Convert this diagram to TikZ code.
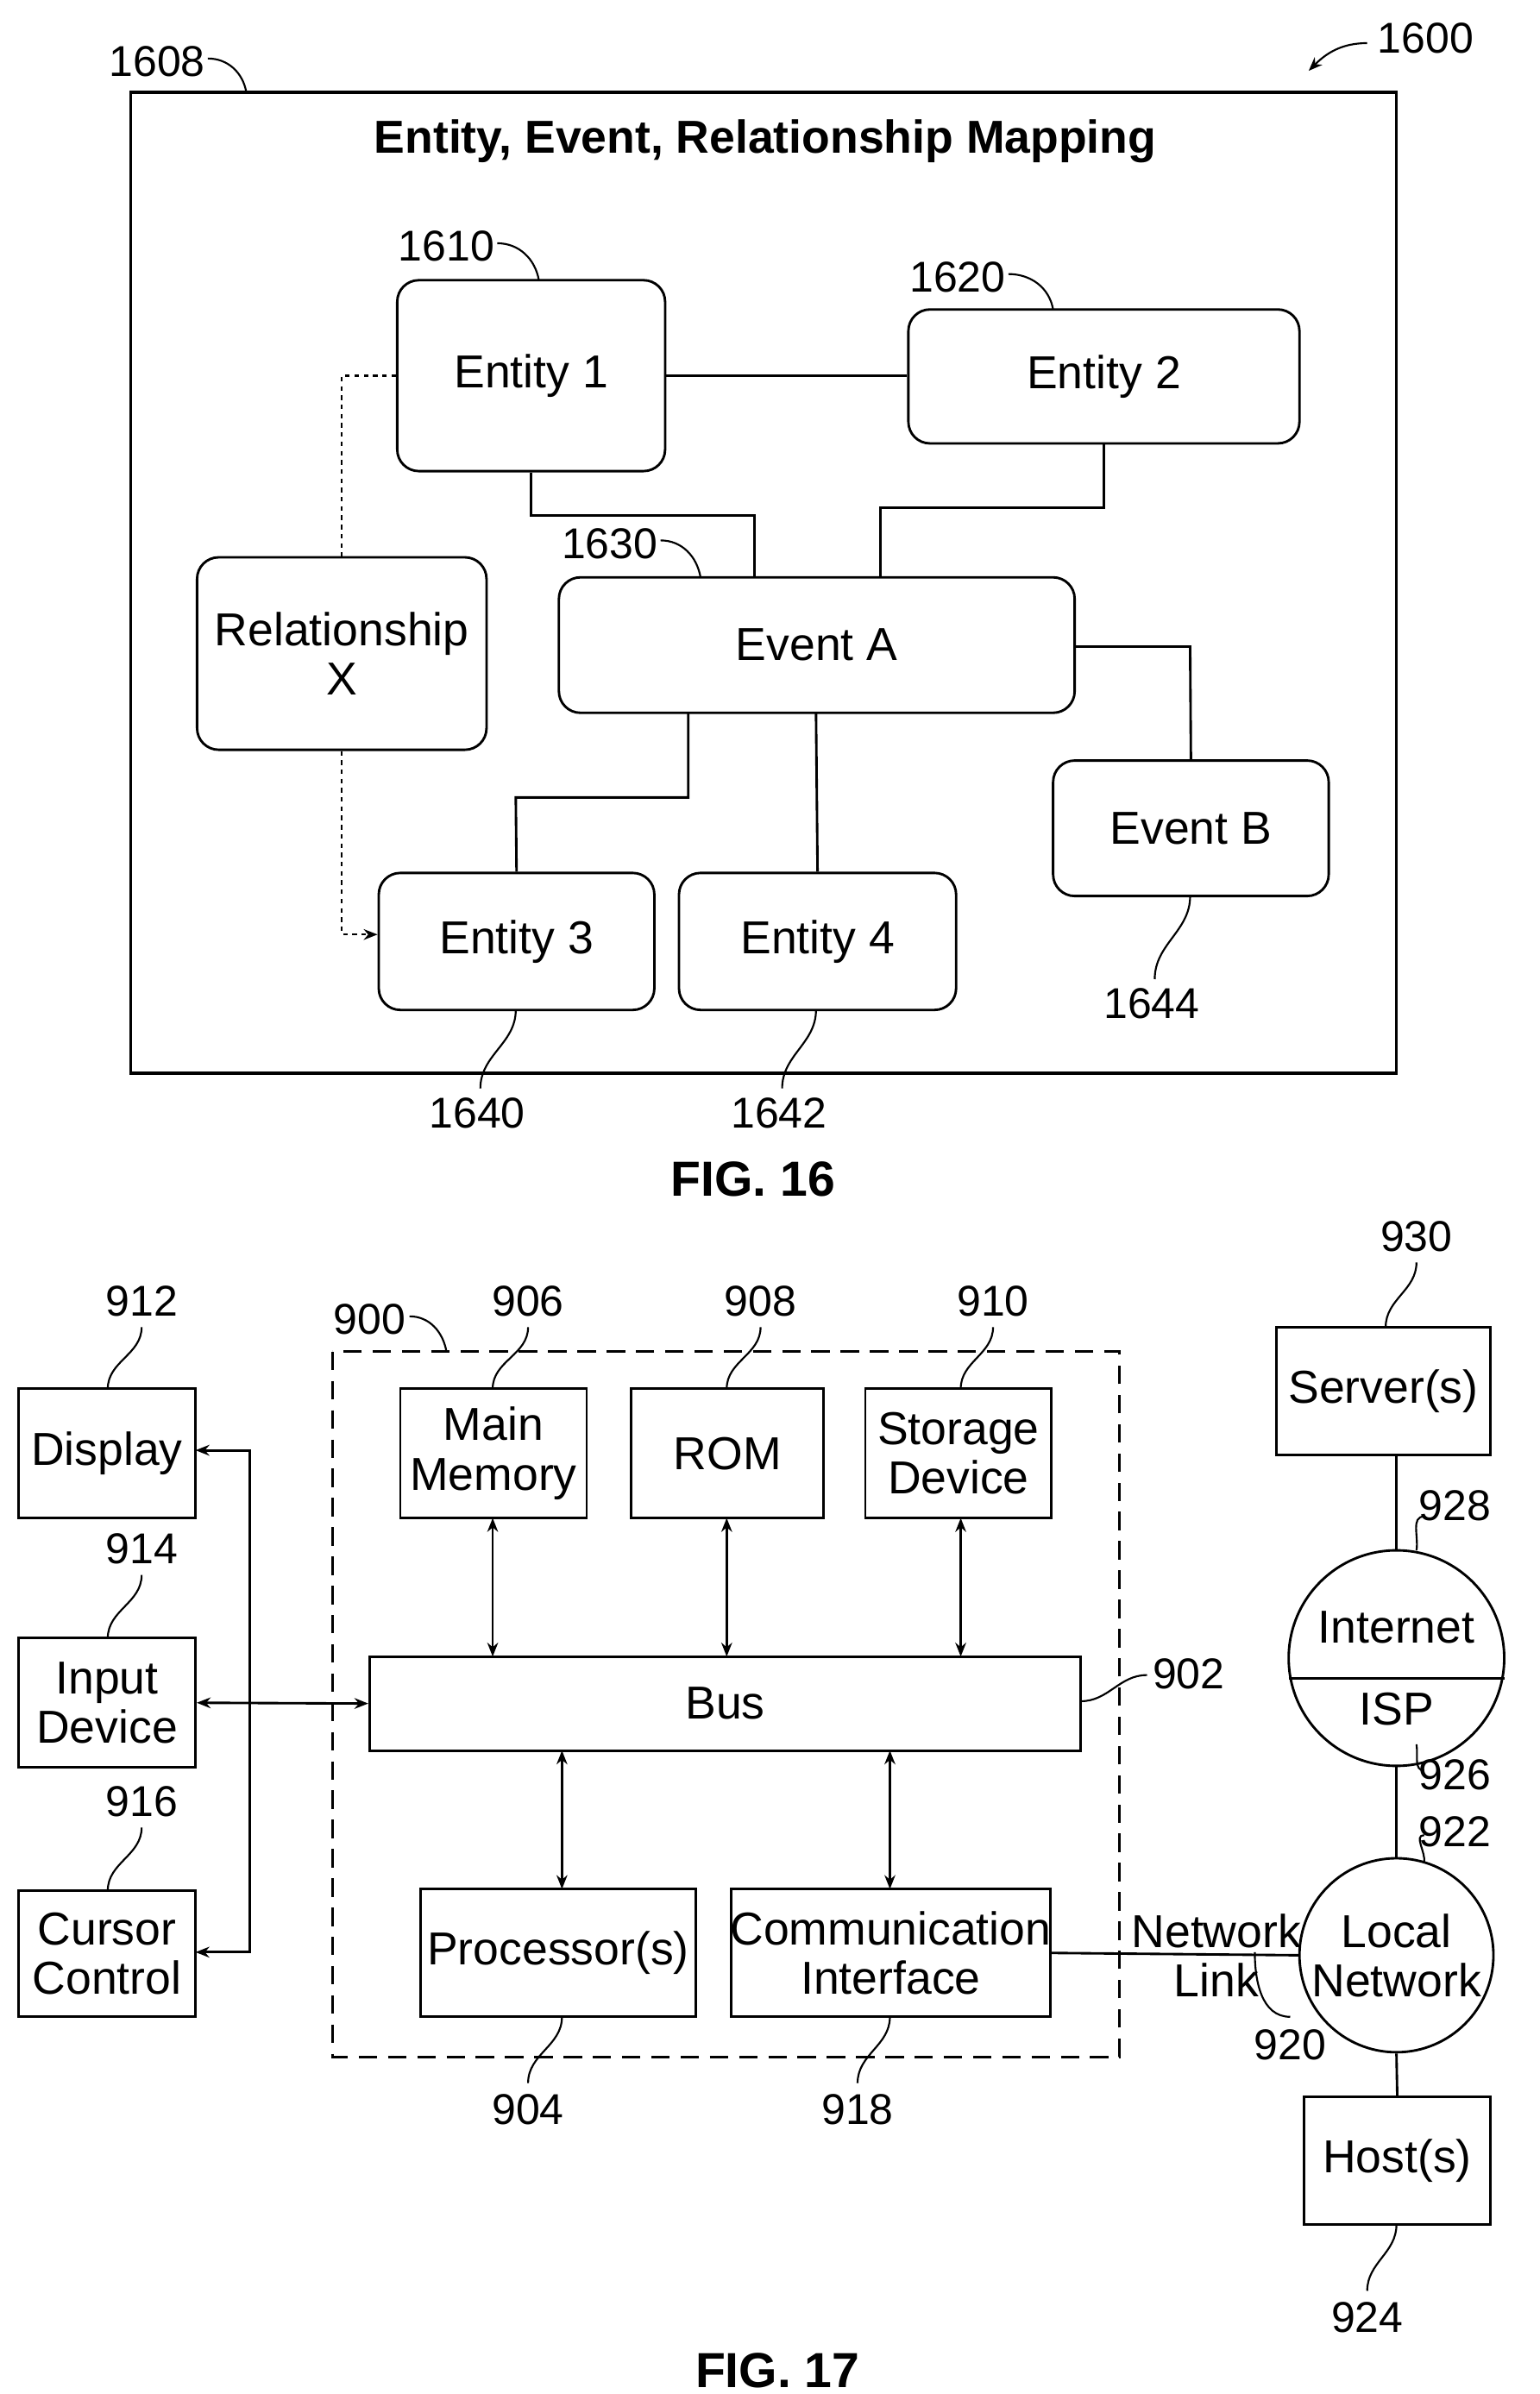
\documentclass[tikz,border=0pt]{standalone}
\usepackage{fontspec}
\setmainfont{Liberation Sans}
\usetikzlibrary{arrows.meta}
\begin{document}
\begin{tikzpicture}[x=1pt,y=-1pt,
 line width=1.6pt,
 box/.style={draw,rectangle,rounded corners=14pt,font=\fontsize{30}{32}\selectfont},
 sq/.style={draw,rectangle,font=\fontsize{30}{32}\selectfont,align=center},
 lbl/.style={font=\fontsize{28}{30}\selectfont},
 lead/.style={line width=1.2pt},
 dbl/.style={{Stealth[length=9pt,width=7pt]}-{Stealth[length=9pt,width=7pt]}},
 sgl/.style={-{Stealth[length=9pt,width=7pt]}}]
\useasboundingbox (0,0) rectangle (1000,1555);
% FIG 16
\draw[line width=2pt] (85,60) rectangle (907,697);
\node[font=\bfseries\fontsize{30}{32}\selectfont] (title) at (497,92) {Entity, Event, Relationship Mapping};
\node[box,minimum width=174pt,minimum height=124pt] (e1) at (345,244) {Entity 1};
\node[box,minimum width=254pt,minimum height=87pt] (e2) at (717,244.5) {Entity 2};
\node[box,minimum width=188pt,minimum height=125pt,align=center] (rx) at (222,424.5) {Relationship\\X};
\node[box,minimum width=335pt,minimum height=88pt] (ea) at (530.5,419) {Event A};
\node[box,minimum width=179pt,minimum height=88pt] (eb) at (773.5,538) {Event B};
\node[box,minimum width=179pt,minimum height=89pt] (e3) at (335.5,611.5) {Entity 3};
\node[box,minimum width=180pt,minimum height=89pt] (e4) at (531,611.5) {Entity 4};
\draw (e1.east) -- (e2.west |- e1.east);
\draw (e1.south) -- (345,335) -- (490,335) -- (490,375);
\draw (717,288) -- (717,330) -- (572,330) -- (572,375);
\draw (698,420) -- (773,420) -- (eb.north);
\draw (447,463) -- (447,518) -- (335,518) -- (e3.north);
\draw (530,463) -- (e4.north);
\draw[dashed,lead] (e1.west) -- (222,244) -- (rx.north);
\draw[dashed,lead,sgl] (rx.south) -- (222,607) -- (e3.west |- 0,607);
\node[lbl] (l1608) at (102,40) {1608};
\draw[lead] (135,38) to[out=0,in=100] (160,60);
\node[lbl] (l1600) at (926,25) {1600};
\draw[lead,sgl] (888,28) to[out=180,in=45] (850,46);
\node[lbl] (l1610) at (290,160) {1610};
\draw[lead] (323,158) to[out=0,in=100] (350,182);
\node[lbl] (l1620) at (622,180) {1620};
\draw[lead] (655,178) to[out=0,in=100] (684,201);
\node[lbl] (l1630) at (396,353) {1630};
\draw[lead] (429,351) to[out=0,in=100] (455,375);
\node[lbl] (l1640) at (310,723) {1640};
\draw[lead] (335,656) to[out=-90,in=90] (312,707);
\node[lbl] (l1642) at (506,723) {1642};
\draw[lead] (530,656) to[out=-90,in=90] (508,707);
\node[lbl] (l1644) at (748,652) {1644};
\draw[lead] (773,582) to[out=-90,in=90] (750,636);
\node[font=\bfseries\fontsize{32}{34}\selectfont] (f16) at (489,766) {FIG. 16};
% FIG 17
\draw[dashed,line width=1.8pt,dash pattern=on 12pt off 7pt] (216,878) rectangle (727,1336);
\node[sq,minimum width=121pt,minimum height=84pt] (mm) at (320.5,944) {};
\node[font=\fontsize{30}{32}\selectfont,align=center] at (mm) {Main\\Memory};
\node[sq,minimum width=125pt,minimum height=84pt] (rom) at (472.5,944) {ROM};
\node[sq,minimum width=121pt,minimum height=84pt] (sd) at (622.5,944) {};
\node[font=\fontsize{30}{32}\selectfont,align=center] at (sd) {Storage\\Device};
\node[sq,minimum width=462pt,minimum height=61pt] (bus) at (471,1106.5) {Bus};
\node[sq,minimum width=179pt,minimum height=83pt] (proc) at (362.5,1268.5) {Processor(s)};
\node[sq,minimum width=207pt,minimum height=83pt] (comm) at (578.5,1268.5) {};
\node[font=\fontsize{30}{32}\selectfont,align=center] at (comm) {Communication\\Interface};
\node[sq,minimum width=115pt,minimum height=84pt] (disp) at (69.5,944) {Display};
\node[sq,minimum width=115pt,minimum height=84pt] (inp) at (69.5,1106) {};
\node[font=\fontsize{30}{32}\selectfont,align=center] at (inp) {Input\\Device};
\node[sq,minimum width=115pt,minimum height=82pt] (cur) at (69.5,1269) {};
\node[font=\fontsize{30}{32}\selectfont,align=center] at (cur) {Cursor\\Control};
\draw[dbl] (320,986) -- (320,1076);
\draw[dbl] (472,986) -- (472,1076);
\draw[dbl] (624,986) -- (624,1076);
\draw[dbl] (365,1137) -- (365,1227);
\draw[dbl] (578,1137) -- (578,1227);
\draw[dbl] (127,942) -- (162,942) -- (162,1268) -- (127,1268);
\draw[dbl] (inp.east) -- (bus.west);
\node[sq,minimum width=139pt,minimum height=83pt] (srv) at (898.5,903.5) {Server(s)};
\node[draw,circle,minimum size=140pt,inner sep=0pt] (inet) at (907,1077) {};
\draw (837,1090) -- (977,1090);
\node[font=\fontsize{30}{32}\selectfont] at (907,1057) {Internet};
\node[font=\fontsize{30}{32}\selectfont] at (907,1110) {ISP};
\node[draw,circle,minimum size=126pt,inner sep=0pt,font=\fontsize{30}{32}\selectfont,align=center] (ln) at (907,1270) {Local\\Network};
\node[sq,minimum width=121pt,minimum height=83pt] (host) at (907.5,1403.5) {Host(s)};
\draw (907,945) -- (inet.north);
\draw (inet.south) -- (ln.north);
\draw (ln.south) -- (host.north);
\draw (comm.east) -- (ln.west);
\node[font=\fontsize{30}{32}\selectfont,align=center] (nl) at (790,1270) {Network\\Link};
\node[lbl] (l912) at (92,845) {912};
\draw[lead] (92,862) to[out=-90,in=90] (70,902);
\node[lbl] (l906) at (343,845) {906};
\draw[lead] (343,862) to[out=-90,in=90] (320,902);
\node[lbl] (l908) at (494,845) {908};
\draw[lead] (494,862) to[out=-90,in=90] (472,902);
\node[lbl] (l910) at (645,845) {910};
\draw[lead] (645,862) to[out=-90,in=90] (624,902);
\node[lbl] (l900) at (240,857) {900};
\draw[lead] (266,855) to[out=0,in=100] (290,878);
\node[lbl] (l902) at (772,1087) {902};
\draw[lead] (702,1105) to[out=0,in=180] (745,1088);
\node[lbl] (l914) at (92,1006) {914};
\draw[lead] (92,1023) to[out=-90,in=90] (70,1064);
\node[lbl] (l916) at (92,1170) {916};
\draw[lead] (92,1187) to[out=-90,in=90] (70,1228);
\node[lbl] (l904) at (343,1370) {904};
\draw[lead] (365,1310) to[out=-90,in=90] (343,1353);
\node[lbl] (l918) at (557,1370) {918};
\draw[lead] (578,1310) to[out=-90,in=90] (557,1353);
\node[lbl] (l930) at (920,803) {930};
\draw[lead] (920,820) to[out=-90,in=90] (900,862);
\node[lbl] (l928) at (945,978) {928};
\draw[lead] (920,1007) to[out=80,in=180] (925,985);
\node[lbl] (l926) at (945,1153) {926};
\draw[lead] (920,1133) to[out=-80,in=180] (925,1150);
\node[lbl] (l922) at (945,1190) {922};
\draw[lead] (925,1192) to[out=180,in=80] (925,1210);
\node[lbl] (l920) at (838,1328) {920};
\draw[lead] (815,1268) to[out=-90,in=180] (838,1310);
\node[lbl] (l924) at (888,1505) {924};
\draw[lead] (907,1445) to[out=-90,in=90] (888,1488);
\node[font=\bfseries\fontsize{32}{34}\selectfont] (f17) at (505,1540) {FIG. 17};
\end{tikzpicture}
\end{document}
